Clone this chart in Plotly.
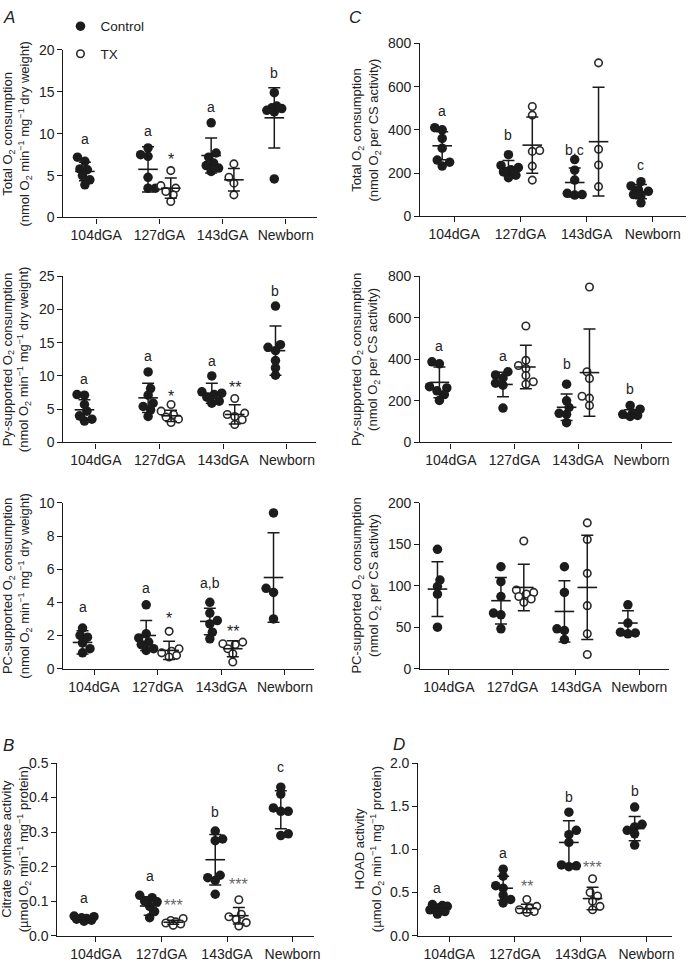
import plotly.graph_objects as go

W, H = 693, 968
FONT = "Liberation Sans, Arial, sans-serif"

groups = ["104dGA", "127dGA", "143dGA", "Newborn"]

# ---------------- Panel A (top): Total O2 consumption per dry weight ----------------
total_dw_ctrl = [[7.2, 6.7, 5.8, 5.7, 5.0, 4.5, 3.9],
                 [8.3, 7.5, 7.3, 4.8, 3.5, 3.5],
                 [11.3, 7.7, 7.2, 6.5, 6.2, 5.9, 5.5],
                 [14.9, 13.3, 13.1, 13.0, 12.8, 12.6, 4.6]]
total_dw_ctrl_mean = [5.5, 5.75, 7.4, 11.9]
total_dw_ctrl_sd = [1.1, 2.7, 2.1, 3.6]
total_dw_tx = [None, [5.6, 3.8, 3.5, 3.1, 2.7, 1.9], [6.4, 4.8, 4.1, 2.7], None]
total_dw_tx_mean = [None, 3.5, 4.5, None]
total_dw_tx_sd = [None, 1.2, 1.35, None]
total_dw_notes = [("a", 0, "c", 8.9), ("a", 1, "c", 9.9), ("*", 1, "t", 7.0),
                  ("a", 2, "c", 12.7), ("b", 3, "c", 16.8)]

# ---------------- Panel A (middle): Py-supported per dry weight ----------------
py_dw_ctrl = [[7.2, 7.1, 5.7, 4.7, 4.0, 3.5, 3.2],
              [10.6, 8.1, 7.1, 5.9, 5.4, 4.9, 3.9],
              [10.0, 7.6, 7.4, 7.2, 6.8, 6.2, 5.9],
              [20.5, 14.7, 14.3, 13.8, 12.3, 11.2, 10.1]]
py_dw_ctrl_mean = [4.9, 6.7, 7.4, 13.8]
py_dw_ctrl_sd = [1.5, 2.2, 1.5, 3.7]
py_dw_tx = [None, [5.7, 4.7, 4.2, 3.8, 3.5, 3.0], [6.6, 4.4, 4.2, 3.9, 3.4, 2.7], None]
py_dw_tx_mean = [None, 4.0, 4.2, None]
py_dw_tx_sd = [None, 0.85, 1.45, None]
py_dw_notes = [("a", 0, "c", 8.9), ("a", 1, "c", 12.4), ("*", 1, "t", 7.1),
               ("a", 2, "c", 11.7), ("**", 2, "t", 8.4), ("b", 3, "c", 22.2)]

# ---------------- Panel A (bottom): PC-supported per dry weight ----------------
pc_dw_ctrl = [[2.45, 2.0, 1.9, 1.55, 1.2, 0.95],
              [3.85, 2.1, 1.85, 1.6, 1.45, 1.2, 1.1],
              [4.0, 3.35, 2.9, 2.7, 2.2, 1.8],
              [9.4, 4.85, 4.6, 3.0]]
pc_dw_ctrl_mean = [1.58, 2.0, 2.85, 5.5]
pc_dw_ctrl_sd = [0.7, 0.9, 0.8, 2.7]
pc_dw_tx = [None, [2.25, 1.2, 1.05, 0.95, 0.8, 0.7], [1.6, 1.5, 1.45, 1.2, 0.9, 0.4], None]
pc_dw_tx_mean = [None, 1.1, 1.2, None]
pc_dw_tx_sd = [None, 0.55, 0.48, None]
pc_dw_notes = [("a", 0, "c", 3.45), ("a", 1, "c", 4.65), ("*", 1, "t", 3.1),
               ("a,b", 2, "c", 4.95), ("**", 2, "t", 2.3), ("b", 3, "c", 10.1)]

# ---------------- Panel B: Citrate synthase activity ----------------
cs_ctrl = [[0.057, 0.055, 0.052, 0.05, 0.048, 0.045, 0.042],
           [0.117, 0.11, 0.1, 0.098, 0.085, 0.07, 0.052],
           [0.303, 0.28, 0.275, 0.175, 0.168, 0.16, 0.12],
           [0.43, 0.41, 0.37, 0.36, 0.36, 0.295, 0.29]]
cs_ctrl_mean = [0.05, 0.086, 0.22, 0.365]
cs_ctrl_sd = [0.005, 0.027, 0.073, 0.055]
cs_tx = [None, [0.05, 0.044, 0.04, 0.037, 0.034, 0.03],
         [0.104, 0.062, 0.055, 0.047, 0.038, 0.028], None]
cs_tx_mean = [None, 0.039, 0.058, None]
cs_tx_sd = [None, 0.006, 0.024, None]
cs_notes = [("a", 0, "c", 0.097), ("a", 1, "c", 0.16), ("***", 1, "t", 0.09),
            ("b", 2, "c", 0.346), ("***", 2, "t", 0.15), ("c", 3, "c", 0.476)]

# ---------------- Panel C (top): Total O2 per CS activity ----------------
total_cs_ctrl = [[410, 400, 360, 315, 260, 250, 232],
                 [285, 235, 225, 215, 205, 190, 178],
                 [262, 213, 167, 106, 100, 98],
                 [160, 140, 122, 115, 100, 95, 62]]
total_cs_ctrl_mean = [326, 225, 156, 114]
total_cs_ctrl_sd = [65, 33, 67, 33]
total_cs_tx = [None, [508, 468, 304, 300, 232, 167], [710, 310, 237, 137], None]
total_cs_tx_mean = [None, 329, 345, None]
total_cs_tx_sd = [None, 130, 252, None]
total_cs_notes = [("a", 0, "c", 470), ("b", 1, "c", 357), ("b,c", 2, "c", 288), ("c", 3, "c", 220)]

# ---------------- Panel C (middle): Py-supported per CS activity ----------------
py_cs_ctrl = [[388, 378, 268, 262, 248, 230, 202],
              [340, 325, 310, 285, 275, 165],
              [280, 200, 168, 140, 135, 95],
              [178, 160, 142, 135, 130, 125]]
py_cs_ctrl_mean = [289, 279, 169, 137]
py_cs_ctrl_sd = [74, 59, 64, 20]
py_cs_tx = [None, [560, 395, 370, 356, 322, 292, 280], [748, 340, 308, 222, 213, 178], None]
py_cs_tx_mean = [None, 363, 336, None]
py_cs_tx_sd = [None, 105, 210, None]
py_cs_notes = [("a", 0, "c", 447), ("a", 1, "c", 398), ("b", 2, "c", 358), ("b", 3, "c", 240)]

# ---------------- Panel C (bottom): PC-supported per CS activity ----------------
pc_cs_ctrl = [[144, 107, 99, 90, 50],
              [123, 105, 87, 67, 65, 48],
              [123, 92, 48, 46, 35],
              [77, 55, 44, 43, 42]]
pc_cs_ctrl_mean = [96, 82, 69, 55]
pc_cs_ctrl_sd = [33, 28, 37, 15]
pc_cs_tx = [None, [154, 95, 92, 90, 87, 84, 80], [176, 156, 115, 76, 42, 17], None]
pc_cs_tx_mean = [None, 98, 98, None]
pc_cs_tx_sd = [None, 28, 63, None]
pc_cs_notes = []

# ---------------- Panel D: HOAD activity ----------------
hoad_ctrl = [[0.36, 0.35, 0.34, 0.32, 0.3, 0.28, 0.25],
             [0.77, 0.69, 0.58, 0.55, 0.47, 0.42, 0.38],
             [1.43, 1.22, 1.17, 1.08, 0.82, 0.81, 0.8],
             [1.49, 1.29, 1.26, 1.22, 1.18, 1.05]]
hoad_ctrl_mean = [0.32, 0.55, 1.08, 1.24]
hoad_ctrl_sd = [0.04, 0.14, 0.25, 0.14]
hoad_tx = [None, [0.42, 0.34, 0.32, 0.3, 0.28, 0.27], [0.66, 0.5, 0.46, 0.4, 0.34, 0.3], None]
hoad_tx_mean = [None, 0.315, 0.43, None]
hoad_tx_sd = [None, 0.05, 0.13, None]
hoad_notes = [("a", 0, "c", 0.51), ("a", 1, "c", 0.91), ("**", 1, "t", 0.58),
              ("b", 2, "c", 1.56), ("***", 2, "t", 0.8), ("b", 3, "c", 1.63)]

DW = "(nmol O<sub>2</sub> min<sup>−1</sup> mg<sup>−1</sup> dry weight)"
CSU = "(nmol O<sub>2</sub> per CS activity)"
PROT = "(µmol O<sub>2</sub> min<sup>−1</sup> mg<sup>−1</sup> protein)"

# geometry (pixels): x spine left/right, y bottom/top, x range, title x
panels = [
    dict(c=total_dw_ctrl, cm=total_dw_ctrl_mean, cs=total_dw_ctrl_sd, t=total_dw_tx, tm=total_dw_tx_mean, ts=total_dw_tx_sd,
         notes=total_dw_notes, yr=[0, 20], dt=5, fmt="", xpx=(64, 320), ypx=(213, 42.7), xr=[-0.52, 3.5],
         title="Total O<sub>2</sub> consumption<br>" + DW, tx=17, star="#222"),
    dict(c=py_dw_ctrl, cm=py_dw_ctrl_mean, cs=py_dw_ctrl_sd, t=py_dw_tx, tm=py_dw_tx_mean, ts=py_dw_tx_sd,
         notes=py_dw_notes, yr=[0, 25], dt=5, fmt="", xpx=(64, 319), ypx=(441.7, 272.7), xr=[-0.51, 3.46],
         title="Py-supported O<sub>2</sub> consumption<br>" + DW, tx=17, star="#222"),
    dict(c=pc_dw_ctrl, cm=pc_dw_ctrl_mean, cs=pc_dw_ctrl_sd, t=pc_dw_tx, tm=pc_dw_tx_mean, ts=pc_dw_tx_sd,
         notes=pc_dw_notes, yr=[0, 10], dt=2, fmt="", xpx=(64, 317), ypx=(671.7, 503.3), xr=[-0.48, 3.46],
         title="PC-supported O<sub>2</sub> consumption<br>" + DW, tx=17, star="#222"),
    dict(c=cs_ctrl, cm=cs_ctrl_mean, cs=cs_ctrl_sd, t=cs_tx, tm=cs_tx_mean, ts=cs_tx_sd,
         notes=cs_notes, yr=[0, 0.5], dt=0.1, fmt=".1f", xpx=(58, 317), ypx=(943.3, 767.7), xr=[-0.585, 3.33],
         title="Citrate synthase activity<br>" + PROT, tx=17, star="#666"),
    dict(c=total_cs_ctrl, cm=total_cs_ctrl_mean, cs=total_cs_ctrl_sd, t=total_cs_tx, tm=total_cs_tx_mean, ts=total_cs_tx_sd,
         notes=total_cs_notes, yr=[0, 800], dt=200, fmt="", xpx=(424, 692), ypx=(211.7, 36), xr=[-0.51, 3.5],
         title="Total O<sub>2</sub> consumption<br>" + CSU, tx=369, star="#222"),
    dict(c=py_cs_ctrl, cm=py_cs_ctrl_mean, cs=py_cs_ctrl_sd, t=py_cs_tx, tm=py_cs_tx_mean, ts=py_cs_tx_sd,
         notes=py_cs_notes, yr=[0, 800], dt=200, fmt="", xpx=(424, 678), ypx=(441.7, 272.7), xr=[-0.48, 3.48],
         title="Py-supported O<sub>2</sub> consumption<br>" + CSU, tx=369, star="#222"),
    dict(c=pc_cs_ctrl, cm=pc_cs_ctrl_mean, cs=pc_cs_ctrl_sd, t=pc_cs_tx, tm=pc_cs_tx_mean, ts=pc_cs_tx_sd,
         notes=pc_cs_notes, yr=[0, 200], dt=50, fmt="", xpx=(424, 675), ypx=(671.7, 503.3), xr=[-0.45, 3.47],
         title="PC-supported O<sub>2</sub> consumption<br>" + CSU, tx=369, star="#222"),
    dict(c=hoad_ctrl, cm=hoad_ctrl_mean, cs=hoad_ctrl_sd, t=hoad_tx, tm=hoad_tx_mean, ts=hoad_tx_sd,
         notes=hoad_notes, yr=[0, 2.0], dt=0.5, fmt=".1f", xpx=(422, 678), ypx=(943.3, 767.7), xr=[-0.47, 3.39],
         title="HOAD activity<br>" + PROT, tx=373, star="#666"),
]

CTRL_OFF, TX_OFF = -0.18, 0.18
TICK_SIZE = 14
TITLE_SIZE = 13


def swarm(vals, ppy, ppx, d=7.0, step=2.5, cap=12.0):
    """Deterministic, compact beeswarm spread (pixel space) so overlapping dots sit side by side."""
    order = sorted(range(len(vals)), key=lambda i: vals[i])
    placed, offs = [], [0.0] * len(vals)
    nsteps = int(cap / step)
    for n, i in enumerate(order):
        y = vals[i] * ppy
        cands = [0.0]
        for k in range(1, nsteps + 1):
            cands += ([k * step, -k * step] if n % 2 else [-k * step, k * step])
        best, best_score = None, -1.0
        for c in cands:
            md = min([((c - px) ** 2 + (y - py) ** 2) ** 0.5 for px, py in placed] or [1e9])
            if md >= d:
                best = c
                break
            if md > best_score:
                best_score, best = md, c
        placed.append((best, y))
        offs[i] = best / ppx
    return offs


fig = go.Figure()
layout = dict(width=W, height=H, margin=dict(l=0, r=0, t=0, b=0), paper_bgcolor="white",
              plot_bgcolor="white", font=dict(family=FONT, size=13, color="#222"), annotations=[])

for k, p in enumerate(panels):
    n = "" if k == 0 else str(k + 1)
    xa, ya = "x" + n, "y" + n
    ppx = (p["xpx"][1] - p["xpx"][0]) / (p["xr"][1] - p["xr"][0])
    ppy = (p["ypx"][0] - p["ypx"][1]) / (p["yr"][1] - p["yr"][0])

    for kind in ("c", "t"):
        xs, ys = [], []
        off = CTRL_OFF if kind == "c" else TX_OFF
        for g, vals in enumerate(p[kind]):
            if vals is None:
                continue
            jit = swarm(vals, ppy, ppx)
            xs += [g + off + j for j in jit]
            ys += list(vals)
        if kind == "c":
            mk = dict(symbol="circle", size=9.5, color="#1c1c1c", line=dict(width=0))
            name = "Control"
        else:
            mk = dict(symbol="circle", size=7.5, color="white", line=dict(width=1.6, color="#2a2a2a"))
            name = "TX"
        fig.add_trace(go.Scatter(x=xs, y=ys, mode="markers", marker=mk, name=name,
                                 legendgroup=name, showlegend=(k == 0), xaxis=xa, yaxis=ya,
                                 cliponaxis=False, hoverinfo="skip"))

    for kind in ("c", "t"):
        means = p["cm"] if kind == "c" else p["tm"]
        sds = p["cs"] if kind == "c" else p["ts"]
        off = CTRL_OFF if kind == "c" else TX_OFF
        mx, my, ms = [], [], []
        for g, (m, s) in enumerate(zip(means, sds)):
            if m is None:
                continue
            mx.append(g + off)
            my.append(m)
            ms.append(s)
        fig.add_trace(go.Scatter(
            x=mx, y=my, mode="markers", showlegend=False, xaxis=xa, yaxis=ya, cliponaxis=False,
            marker=dict(symbol="line-ew", size=14, line=dict(width=1.6, color="#1a1a1a")),
            error_y=dict(type="data", array=ms, visible=True, width=6, thickness=1.5, color="#1a1a1a"),
            hoverinfo="skip"))

    layout["xaxis" + n] = dict(
        domain=[p["xpx"][0] / W, p["xpx"][1] / W], range=p["xr"], anchor=ya,
        tickmode="array", tickvals=[0, 1, 2, 3], ticktext=groups,
        showline=True, linecolor="#1a1a1a", linewidth=1.3, ticks="outside", ticklen=5,
        tickwidth=1.3, tickcolor="#1a1a1a", showgrid=False, zeroline=False,
        tickfont=dict(size=TICK_SIZE, color="#222", family=FONT), fixedrange=True)
    layout["yaxis" + n] = dict(
        domain=[1 - p["ypx"][0] / H, 1 - p["ypx"][1] / H], range=p["yr"], anchor=xa,
        dtick=p["dt"], tick0=0, tickformat=p["fmt"],
        showline=True, linecolor="#1a1a1a", linewidth=1.3, ticks="outside", ticklen=5,
        tickwidth=1.3, tickcolor="#1a1a1a", showgrid=False, zeroline=False,
        tickfont=dict(size=TICK_SIZE, color="#222", family=FONT), fixedrange=True)

    ymid = 1 - (p["ypx"][0] + p["ypx"][1]) / 2 / H
    layout["annotations"].append(dict(
        text=p["title"], xref="paper", yref="paper", x=p["tx"] / W, y=ymid, textangle=-90,
        showarrow=False, xanchor="center", yanchor="middle", align="center",
        font=dict(size=TITLE_SIZE, color="#222", family=FONT)))

    for txt, g, side, yv in p["notes"]:
        is_star = txt.startswith("*")
        layout["annotations"].append(dict(
            text=txt, xref=xa, yref=ya, x=g + (CTRL_OFF if side == "c" else TX_OFF),
            y=yv, showarrow=False, xanchor="center", yanchor="middle",
            yshift=(-1 if is_star else 4),
            font=dict(size=14 if not is_star else 16, color=(p["star"] if is_star else "#222"),
                      family=FONT)))

for letter, x, y in (("A", 9, 10), ("C", 359, 10), ("B", 9, 750), ("D", 402, 749)):
    layout["annotations"].append(dict(
        text="<i>" + letter + "</i>", xref="paper", yref="paper", x=x / W, y=1 - y / H,
        showarrow=False, xanchor="center", yanchor="middle",
        font=dict(size=17, color="#222", family=FONT)))

layout["legend"] = dict(x=61 / W, y=1 - 3 / H, xanchor="left", yanchor="top",
                        bgcolor="rgba(0,0,0,0)", font=dict(size=13.5, color="#222", family=FONT),
                        tracegroupgap=7, itemwidth=30)

fig.update_layout(**layout)
fig.write_html("out.html", config={"displayModeBar": False},
               post_script="document.body.style.margin='0px';document.body.style.overflow='hidden';")
